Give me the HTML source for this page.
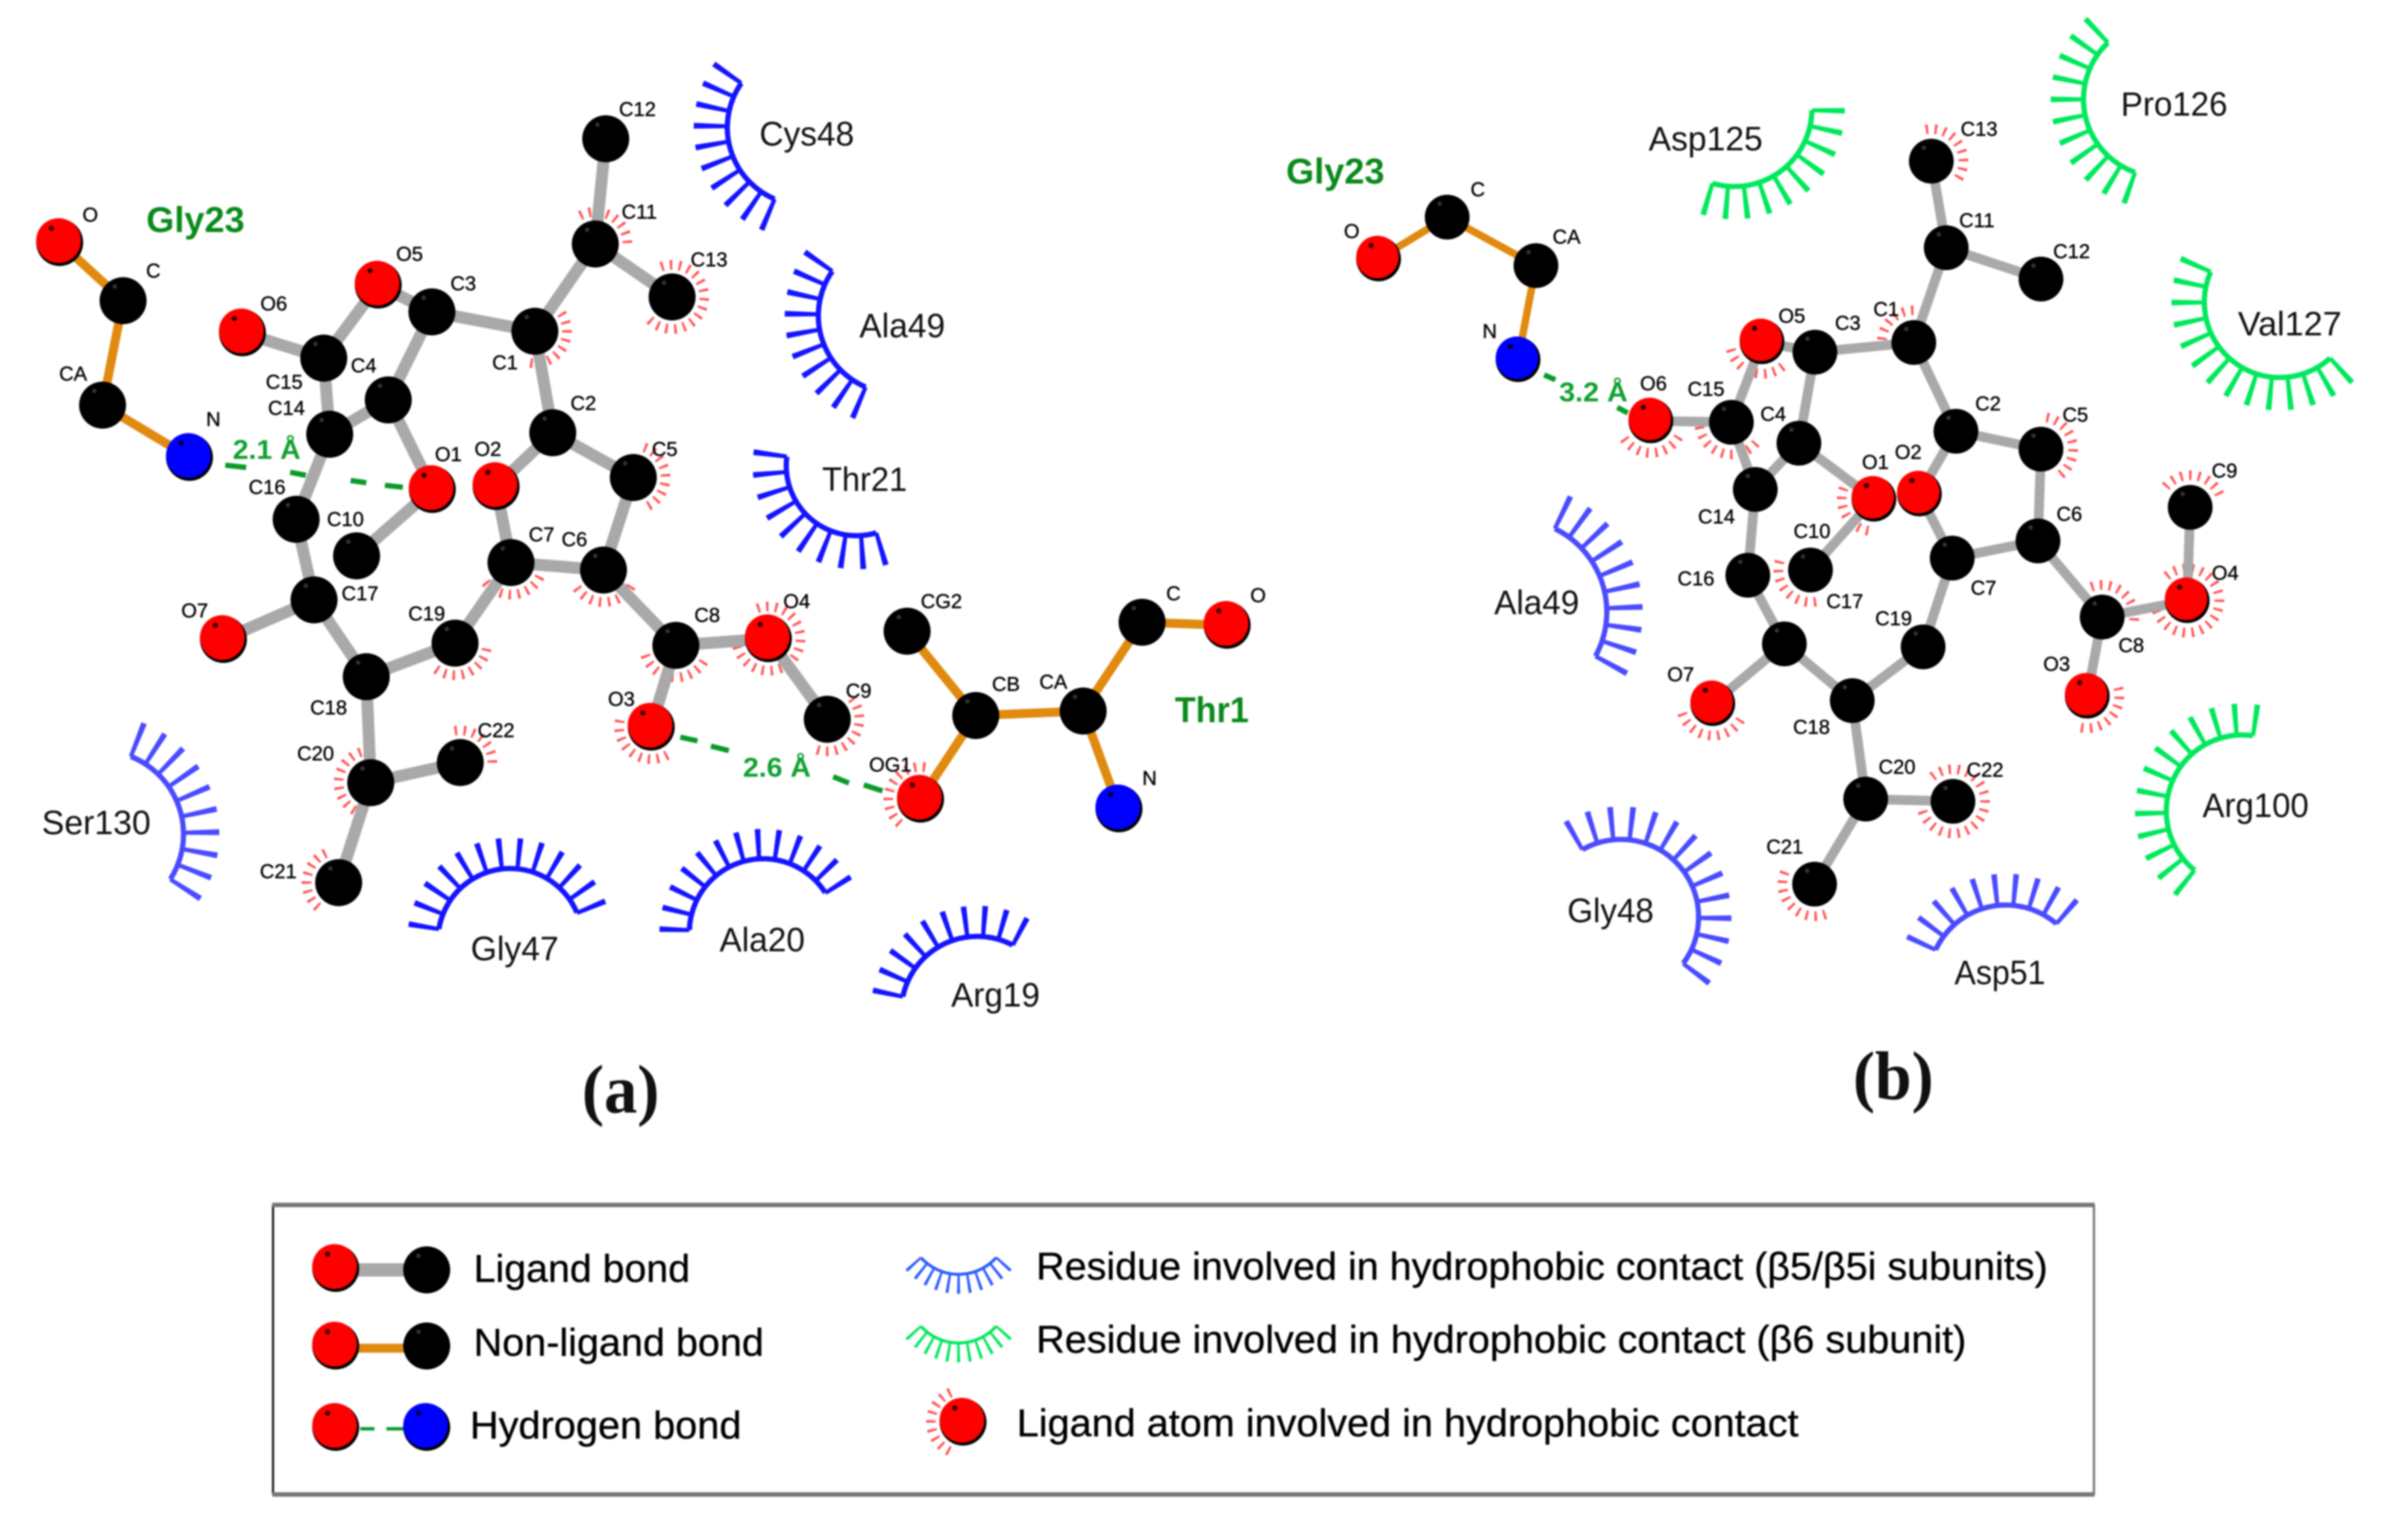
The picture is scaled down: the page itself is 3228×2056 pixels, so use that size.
<!DOCTYPE html>
<html><head><meta charset="utf-8"><title>Ligand interaction diagrams</title>
<style>
html,body{margin:0;padding:0;background:#fff;width:3228px;height:2056px;overflow:hidden}
svg{display:block;filter:blur(1px)}
text{font-family:"Liberation Sans",Arial,sans-serif;fill:#111}
.s text{font-size:27px;text-anchor:middle;fill:#000;stroke:#000;stroke-width:.4px}
.l{font-size:45px}
.g{font-size:48px;font-weight:bold;fill:#0a8a1a}
.h{font-size:36px;font-weight:bold;fill:#10a030}
.p{font-family:"Liberation Serif",serif;font-size:92px;font-weight:bold;fill:#111}
.t{font-size:52px;fill:#000;stroke:#000;stroke-width:.4px}
.b{fill:none;stroke:#a9a9a9;stroke-width:16}
.bb{fill:none;stroke:#a9a9a9;stroke-width:13}
.o{fill:none;stroke:#e08a10;stroke-width:12}
.ob{fill:none;stroke:#e08a10;stroke-width:10}
.hb{stroke:#0a9a2a;stroke-width:7;fill:none}
</style></head><body>
<svg xmlns="http://www.w3.org/2000/svg" width="3228" height="2056" viewBox="0 0 3228 2056">
<defs>
<g id="K"><circle r="31.5" fill="#000"/><circle cx="-11" cy="-19" r="3" fill="#333"/></g>
<g id="R"><circle r="31.5" fill="#000"/><circle cx="-1.5" cy="-2.5" r="30" fill="#f00"/><circle cx="-11" cy="-19" r="3.5" fill="#300"/></g>
<g id="N"><circle r="31.5" fill="#000"/><circle cx="-1.5" cy="-2.5" r="30" fill="#00f"/><circle cx="-11" cy="-19" r="3.5" fill="#003"/></g>
<g id="Kb"><circle r="30" fill="#000"/><circle cx="-10" cy="-18" r="3" fill="#333"/></g>
<g id="Rb"><circle r="30" fill="#000"/><circle cx="-1.5" cy="-2.5" r="28.5" fill="#f00"/><circle cx="-10" cy="-18" r="3.5" fill="#300"/></g>
<g id="Nb"><circle r="30" fill="#000"/><circle cx="-1.5" cy="-2.5" r="28.5" fill="#00f"/><circle cx="-10" cy="-18" r="3.5" fill="#003"/></g>
<g id="tk" fill="none" stroke="#ff5555" stroke-width="13">
<circle id="t7" r="43" pathLength="360" stroke-dasharray="4.3 11.7 4.3 11.7 4.3 11.7 4.3 11.7 4.3 11.7 4.3 11.7 4.3 999"/>
<circle id="t8" r="43" pathLength="360" stroke-dasharray="4.3 11.7 4.3 11.7 4.3 11.7 4.3 11.7 4.3 11.7 4.3 11.7 4.3 11.7 4.3 999"/>
<circle id="t9" r="43" pathLength="360" stroke-dasharray="4.3 11.7 4.3 11.7 4.3 11.7 4.3 11.7 4.3 11.7 4.3 11.7 4.3 11.7 4.3 11.7 4.3 999"/>
<circle id="t10" r="43" pathLength="360" stroke-dasharray="4.3 11.7 4.3 11.7 4.3 11.7 4.3 11.7 4.3 11.7 4.3 11.7 4.3 11.7 4.3 11.7 4.3 11.7 4.3 999"/>
<circle id="t16" r="43" pathLength="360" stroke-dasharray="4.3 11.7 4.3 11.7 4.3 11.7 4.3 11.7 4.3 11.7 4.3 11.7 4.3 11.7 4.3 11.7 4.3 11.7 4.3 11.7 4.3 11.7 4.3 11.7 4.3 11.7 4.3 11.7 4.3 11.7 4.3 999"/>
<circle id="t19" r="43" pathLength="360" stroke-dasharray="4.3 11.7 4.3 11.7 4.3 11.7 4.3 11.7 4.3 11.7 4.3 11.7 4.3 11.7 4.3 11.7 4.3 11.7 4.3 11.7 4.3 11.7 4.3 11.7 4.3 11.7 4.3 11.7 4.3 11.7 4.3 11.7 4.3 11.7 4.3 11.7 4.3 999"/>
</g>
</defs>
<rect width="3228" height="2056" fill="#fff"/>

<!-- hydrophobic ticks panel a -->
<g fill="none" stroke="#ff5555" stroke-width="13">
<use href="#t8" transform="translate(798 327) rotate(-118)"/>
<use href="#t16" transform="translate(901 398) rotate(-110)"/>
<use href="#t10" transform="translate(717 444) rotate(-50)"/>
<use href="#t9" transform="translate(849 640) rotate(-70)"/>
<use href="#t8" transform="translate(809 764) rotate(30)"/>
<use href="#t9" transform="translate(685 754) rotate(10)"/>
<use href="#t8" transform="translate(610 862) rotate(10)"/>
<use href="#t9" transform="translate(906 865) rotate(30)"/>
<use href="#t19" transform="translate(1030 856) rotate(-110)"/>
<use href="#t9" transform="translate(873 974.500) rotate(60)"/>
<use href="#t10" transform="translate(1109 964) rotate(-40)"/>
<use href="#t10" transform="translate(1234 1071) rotate(130)"/>
<use href="#t7" transform="translate(617 1022) rotate(-100)"/>
<use href="#t9" transform="translate(497 1049) rotate(120)"/>
<use href="#t8" transform="translate(454 1183) rotate(130)"/>
<!-- panel b -->
<use href="#t9" transform="translate(2589 216) rotate(-100)"/>
<use href="#t7" transform="translate(2565.500 459) rotate(185)"/>
<use href="#t8" transform="translate(2362 458) rotate(50)"/>
<use href="#t8" transform="translate(2213 564) rotate(30)"/>
<use href="#t9" transform="translate(2321 566) rotate(40)"/>
<use href="#t9" transform="translate(2736 602) rotate(-80)"/>
<use href="#t8" transform="translate(2512 669) rotate(100)"/>
<use href="#t8" transform="translate(2936 680) rotate(-140)"/>
<use href="#t8" transform="translate(2427 764) rotate(80)"/>
<use href="#t19" transform="translate(2932 805) rotate(-130)"/>
<use href="#t8" transform="translate(2818 827) rotate(-110)"/>
<use href="#t8" transform="translate(2798 933) rotate(-15)"/>
<use href="#t9" transform="translate(2296 943) rotate(30)"/>
<use href="#t19" transform="translate(2618 1074) rotate(-130)"/>
<use href="#t9" transform="translate(2432.500 1185) rotate(70)"/>
<use href="#t9" transform="translate(1291 1906) rotate(115)"/>
</g>

<!-- bonds panel a -->
<path class="o" d="M80 325L165 403L137.500 543L254 613M1216 846L1308 959L1452 953L1531 834L1645 838M1308 959L1234 1071M1452 953L1500 1084"/>
<path class="b" d="M325 446L434 480L507 382L579 418L717 444L798 327L812 186M798 327L901 398M579 418L520.500 536L442 582L434 480M520.500 536L579.500 656L478 745M442 582L397 696L421 804L299.500 857M421 804L491 907L610 862L685 754L665 652L741 580L717 444M741 580L849 640L809 764L685 754M809 764L906 865L873 974.500M906 865L1030 856L1109 964M491 907L497 1049L617 1022M497 1049L454 1183"/>
<!-- bonds panel b -->
<path class="ob" d="M1848 347L1940 291L2059 356L2035 482"/>
<path class="bb" d="M2213 564L2321 566L2362 458L2433 472L2565.500 459L2609 332L2589 216M2609 332L2736 374M2433 472L2411.500 594L2353 656L2321 566M2411.500 594L2512 669L2427 764M2353 656L2343 771L2392 863L2296 943M2392 863L2483 939L2578 867L2617 748L2573 662L2622 578L2565.500 459M2622 578L2736 602L2732 725L2617 748M2732 725L2818 827L2798 933M2818 827L2932 805L2936 680M2483 939L2501 1071L2618 1074M2501 1071L2432.500 1185"/>

<!-- hydrogen bonds -->
<path class="hb" d="M302 623.500L330 626.500M389 633L410 637M470 644L491 647M516 650.500L540 653M912 988L935 993M953 1000L977 1006M1117 1041L1138 1049.500M1158 1052L1183 1060M2070 502.500L2085 509M2168 546L2182 553.500"/>

<!-- atoms panel a -->
<use href="#R" x="80" y="325"/><use href="#K" x="165" y="403"/><use href="#K" x="137.500" y="543"/><use href="#N" x="254" y="613"/>
<use href="#R" x="325" y="446"/><use href="#K" x="434" y="480"/><use href="#R" x="507" y="382"/><use href="#K" x="579" y="418"/><use href="#K" x="717" y="444"/><use href="#K" x="798" y="327"/><use href="#K" x="812" y="186"/><use href="#K" x="901" y="398"/><use href="#K" x="520.500" y="536"/><use href="#K" x="442" y="582"/><use href="#R" x="579.500" y="656"/><use href="#R" x="665" y="652"/><use href="#K" x="741" y="580"/><use href="#K" x="849" y="640"/><use href="#K" x="397" y="696"/><use href="#K" x="478" y="745"/><use href="#K" x="685" y="754"/><use href="#K" x="809" y="764"/><use href="#K" x="421" y="804"/><use href="#R" x="299.500" y="857"/><use href="#K" x="610" y="862"/><use href="#K" x="491" y="907"/><use href="#K" x="906" y="865"/><use href="#R" x="1030" y="856"/><use href="#R" x="873" y="974.500"/><use href="#K" x="1109" y="964"/><use href="#K" x="617" y="1022"/><use href="#K" x="497" y="1049"/><use href="#K" x="454" y="1183"/>
<use href="#K" x="1216" y="846"/><use href="#K" x="1308" y="959"/><use href="#K" x="1452" y="953"/><use href="#K" x="1531" y="834"/><use href="#R" x="1645" y="838"/><use href="#R" x="1234" y="1071"/><use href="#N" x="1500" y="1084"/>
<!-- atoms panel b -->
<use href="#Rb" x="1848" y="347"/><use href="#Kb" x="1940" y="291"/><use href="#Kb" x="2059" y="356"/><use href="#Nb" x="2035" y="482"/>
<use href="#Rb" x="2213" y="564"/><use href="#Kb" x="2321" y="566"/><use href="#Rb" x="2362" y="458"/><use href="#Kb" x="2433" y="472"/><use href="#Kb" x="2565.500" y="459"/><use href="#Kb" x="2609" y="332"/><use href="#Kb" x="2589" y="216"/><use href="#Kb" x="2736" y="374"/><use href="#Kb" x="2411.500" y="594"/><use href="#Kb" x="2622" y="578"/><use href="#Kb" x="2736" y="602"/><use href="#Rb" x="2512" y="669"/><use href="#Rb" x="2573" y="662"/><use href="#Kb" x="2353" y="656"/><use href="#Kb" x="2732" y="725"/><use href="#Kb" x="2936" y="680"/><use href="#Kb" x="2343" y="771"/><use href="#Kb" x="2427" y="764"/><use href="#Kb" x="2617" y="748"/><use href="#Rb" x="2932" y="805"/><use href="#Kb" x="2818" y="827"/><use href="#Rb" x="2798" y="933"/><use href="#Kb" x="2578" y="867"/><use href="#Kb" x="2392" y="863"/><use href="#Rb" x="2296" y="943"/><use href="#Kb" x="2483" y="939"/><use href="#Kb" x="2501" y="1071"/><use href="#Kb" x="2618" y="1074"/><use href="#Kb" x="2432.500" y="1185"/>

<!-- residue arcs: dark blue -->
<g fill="none" stroke="#1414ff" stroke-width="7">
<circle r="104" pathLength="360" stroke-dasharray="102 999" transform="translate(1079 171) rotate(113)"/>
<circle r="126.500" stroke-width="45" pathLength="360" stroke-dasharray="2.94 8.39 2.94 8.39 2.94 8.39 2.94 8.39 2.94 8.39 2.94 8.39 2.94 8.39 2.94 8.39 2.94 8.39 2.94 999" transform="translate(1079 171) rotate(111.500)"/>
<circle r="104" pathLength="360" stroke-dasharray="102 999" transform="translate(1201 423) rotate(113)"/>
<circle r="126.500" stroke-width="45" pathLength="360" stroke-dasharray="2.94 8.39 2.94 8.39 2.94 8.39 2.94 8.39 2.94 8.39 2.94 8.39 2.94 8.39 2.94 8.39 2.94 8.39 2.94 999" transform="translate(1201 423) rotate(111.500)"/>
<circle r="94" pathLength="360" stroke-dasharray="113.900 999" transform="translate(1148 624) rotate(73.500)"/>
<circle r="116.500" stroke-width="45" pathLength="360" stroke-dasharray="3.2 9.46 3.2 9.46 3.2 9.46 3.2 9.46 3.2 9.46 3.2 9.46 3.2 9.46 3.2 9.46 3.2 9.46 3.2 999" transform="translate(1148 624) rotate(71.900)"/>
<circle r="97" pathLength="360" stroke-dasharray="147.900 999" transform="translate(684 1261) rotate(189.400)"/>
<circle r="117.500" stroke-width="41" pathLength="360" stroke-dasharray="3.17 9.16 3.17 9.16 3.17 9.16 3.17 9.16 3.17 9.16 3.17 9.16 3.17 9.16 3.17 9.16 3.17 9.16 3.17 9.16 3.17 9.16 3.17 9.16 3.17 999" transform="translate(684 1261) rotate(187.800)"/>
<circle r="99" pathLength="360" stroke-dasharray="145.500 999" transform="translate(1023 1250) rotate(182)"/>
<circle r="119" stroke-width="40" pathLength="360" stroke-dasharray="3.13 9 3.13 9 3.13 9 3.13 9 3.13 9 3.13 9 3.13 9 3.13 9 3.13 9 3.13 9 3.13 9 3.13 9 3.13 999" transform="translate(1023 1250) rotate(180.400)"/>
<circle r="102" pathLength="360" stroke-dasharray="105.800 999" transform="translate(1310 1357) rotate(192)"/>
<circle r="122.500" stroke-width="41" pathLength="360" stroke-dasharray="3.04 8.72 3.04 8.72 3.04 8.72 3.04 8.72 3.04 8.72 3.04 8.72 3.04 8.72 3.04 8.72 3.04 8.72 3.04 999" transform="translate(1310 1357) rotate(190.500)"/>
</g>
<!-- residue arcs: light blue -->
<g fill="none" stroke="#4a4aff" stroke-width="7">
<circle r="112" pathLength="360" stroke-dasharray="101 999" transform="translate(134 1118) rotate(-68.300)"/>
<circle r="136" stroke-width="48" pathLength="360" stroke-dasharray="2.8 8.42 2.8 8.42 2.8 8.42 2.8 8.42 2.8 8.42 2.8 8.42 2.8 8.42 2.8 8.42 2.8 8.42 2.8 999" transform="translate(134 1118) rotate(-69.700)"/>
<circle r="124" pathLength="360" stroke-dasharray="92.700 999" transform="translate(2030 820) rotate(-64)"/>
<circle r="148" stroke-width="48" pathLength="360" stroke-dasharray="2.59 7.71 2.59 7.71 2.59 7.71 2.59 7.71 2.59 7.71 2.59 7.71 2.59 7.71 2.59 7.71 2.59 7.71 2.59 999" transform="translate(2030 820) rotate(-65.300)"/>
<circle r="104" pathLength="360" stroke-dasharray="156.600 999" transform="translate(2173 1229) rotate(240.200)"/>
<circle r="126" stroke-width="44" pathLength="360" stroke-dasharray="3 9.05 3 9.05 3 9.05 3 9.05 3 9.05 3 9.05 3 9.05 3 9.05 3 9.05 3 9.05 3 9.05 3 9.05 3 9.05 3 999" transform="translate(2173 1229) rotate(238.700)"/>
<circle r="104" pathLength="360" stroke-dasharray="105.700 999" transform="translate(2689 1317) rotate(205)"/>
<circle r="125" stroke-width="42" pathLength="360" stroke-dasharray="2.98 8.76 2.98 8.76 2.98 8.76 2.98 8.76 2.98 8.76 2.98 8.76 2.98 8.76 2.98 8.76 2.98 8.76 2.98 999" transform="translate(2689 1317) rotate(203.500)"/>
</g>
<!-- residue arcs: green -->
<g fill="none" stroke="#00e85c" stroke-width="7">
<circle r="104" pathLength="360" stroke-dasharray="117.200 999" transform="translate(2897 133) rotate(109.600)"/>
<circle r="126" stroke-width="44" pathLength="360" stroke-dasharray="2.96 8.76 2.96 8.76 2.96 8.76 2.96 8.76 2.96 8.76 2.96 8.76 2.96 8.76 2.96 8.76 2.96 8.76 2.96 8.76 2.96 999" transform="translate(2897 133) rotate(108.100)"/>
<circle r="104" pathLength="360" stroke-dasharray="105.500 999" transform="translate(2325 146) rotate(1)"/>
<circle r="126" stroke-width="44" pathLength="360" stroke-dasharray="2.96 8.76 2.96 8.76 2.96 8.76 2.96 8.76 2.96 8.76 2.96 8.76 2.96 8.76 2.96 8.76 2.96 8.76 2.96 999" transform="translate(2325 146) rotate(-.5)"/>
<circle r="101" pathLength="360" stroke-dasharray="155.800 999" transform="translate(3056 405) rotate(48)"/>
<circle r="123" stroke-width="44" pathLength="360" stroke-dasharray="3.03 8.95 3.03 8.95 3.03 8.95 3.03 8.95 3.03 8.95 3.03 8.95 3.03 8.95 3.03 8.95 3.03 8.95 3.03 8.95 3.03 8.95 3.03 8.95 3.03 8.95 3.03 999" transform="translate(3056 405) rotate(46.500)"/>
<circle r="102" pathLength="360" stroke-dasharray="149.200 999" transform="translate(3006 1087) rotate(128.900)"/>
<circle r="123" stroke-width="42" pathLength="360" stroke-dasharray="3.03 9.4 3.03 9.4 3.03 9.4 3.03 9.4 3.03 9.4 3.03 9.4 3.03 9.4 3.03 9.4 3.03 9.4 3.03 9.4 3.03 9.4 3.03 9.4 3.03 999" transform="translate(3006 1087) rotate(127.400)"/>
</g>

<!-- atom labels -->
<g class="s">
<text x="121" y="297">O</text><text x="205.500" y="372">C</text><text x="98" y="510">CA</text><text x="286" y="571">N</text><text x="367" y="416">O6</text><text x="549" y="349.500">O5</text><text x="621" y="389">C3</text><text x="381" y="521">C15</text><text x="487.500" y="499">C4</text><text x="384" y="556">C14</text><text x="677" y="495">C1</text><text x="782" y="549.500">C2</text><text x="891" y="611">C5</text><text x="857" y="293">C11</text><text x="854.500" y="155.600">C12</text><text x="950.500" y="357">C13</text><text x="601" y="618">O1</text><text x="654" y="611">O2</text><text x="358" y="662">C16</text><text x="463" y="705">C10</text><text x="726" y="725.500">C7</text><text x="770" y="732">C6</text><text x="482.600" y="804.600">C17</text><text x="261" y="827.500">O7</text><text x="572" y="831.600">C19</text><text x="440.500" y="957.600">C18</text><text x="423" y="1019">C20</text><text x="665" y="988">C22</text><text x="373" y="1177">C21</text><text x="948" y="833.700">C8</text><text x="1068" y="815">O4</text><text x="833" y="946">O3</text><text x="1151" y="935">C9</text><text x="1262" y="815">CG2</text><text x="1348.500" y="926">CB</text><text x="1412" y="923">CA</text><text x="1573" y="804.600">C</text><text x="1686.500" y="807">O</text><text x="1193.500" y="1034">OG1</text><text x="1541" y="1052">N</text>
<text x="1812" y="319">O</text><text x="1981" y="263">C</text><text x="2100" y="326.500">CA</text><text x="1997" y="453">N</text><text x="2216.500" y="523">O6</text><text x="2287" y="530.600">C15</text><text x="2402" y="432.600">O5</text><text x="2477" y="442">C3</text><text x="2528.500" y="423.500">C1</text><text x="2377" y="564">C4</text><text x="2665" y="550">C2</text><text x="2782" y="565">C5</text><text x="2650" y="304.600">C11</text><text x="2653" y="182">C13</text><text x="2777" y="346">C12</text><text x="2514" y="628.600">O1</text><text x="2558" y="615">O2</text><text x="2301" y="701.500">C14</text><text x="2774" y="698">C6</text><text x="2982" y="640">C9</text><text x="2429" y="721">C10</text><text x="2273.500" y="784.600">C16</text><text x="2473" y="815">C17</text><text x="2659" y="797">C7</text><text x="2538.400" y="838">C19</text><text x="2983" y="777">O4</text><text x="2857" y="874">C8</text><text x="2757" y="899">O3</text><text x="2253" y="913">O7</text><text x="2428.400" y="983.600">C18</text><text x="2543" y="1037">C20</text><text x="2661" y="1041">C22</text><text x="2392.500" y="1144">C21</text>
</g>

<!-- residue labels -->
<text class="g" x="196" y="311" textLength="132" lengthAdjust="spacingAndGlyphs">Gly23</text>
<text class="g" x="1575" y="968" textLength="99" lengthAdjust="spacingAndGlyphs">Thr1</text>
<text class="g" x="1724" y="246" textLength="132" lengthAdjust="spacingAndGlyphs">Gly23</text>
<text class="h" x="312" y="615" textLength="91" lengthAdjust="spacingAndGlyphs">2.1 Å</text>
<text class="h" x="996" y="1041" textLength="91" lengthAdjust="spacingAndGlyphs">2.6 Å</text>
<text class="h" x="2090" y="538" textLength="92" lengthAdjust="spacingAndGlyphs">3.2 Å</text>
<text class="l" x="1018" y="195" textLength="127" lengthAdjust="spacingAndGlyphs">Cys48</text>
<text class="l" x="1152" y="452" textLength="115" lengthAdjust="spacingAndGlyphs">Ala49</text>
<text class="l" x="1102" y="658" textLength="114" lengthAdjust="spacingAndGlyphs">Thr21</text>
<text class="l" x="56" y="1118" textLength="146" lengthAdjust="spacingAndGlyphs">Ser130</text>
<text class="l" x="631" y="1287" textLength="118" lengthAdjust="spacingAndGlyphs">Gly47</text>
<text class="l" x="964.500" y="1275" textLength="114.500" lengthAdjust="spacingAndGlyphs">Ala20</text>
<text class="l" x="1275" y="1349" textLength="119" lengthAdjust="spacingAndGlyphs">Arg19</text>
<text class="l" x="2210" y="201.500" textLength="153" lengthAdjust="spacingAndGlyphs">Asp125</text>
<text class="l" x="2843" y="155" textLength="143" lengthAdjust="spacingAndGlyphs">Pro126</text>
<text class="l" x="3000" y="449.700" textLength="139" lengthAdjust="spacingAndGlyphs">Val127</text>
<text class="l" x="2003" y="823" textLength="114" lengthAdjust="spacingAndGlyphs">Ala49</text>
<text class="l" x="2952.500" y="1095" textLength="142.500" lengthAdjust="spacingAndGlyphs">Arg100</text>
<text class="l" x="2101" y="1236" textLength="116" lengthAdjust="spacingAndGlyphs">Gly48</text>
<text class="l" x="2620" y="1319" textLength="122" lengthAdjust="spacingAndGlyphs">Asp51</text>
<text class="p" x="780" y="1491" textLength="104" lengthAdjust="spacingAndGlyphs">(a)</text>
<text class="p" x="2484" y="1473" textLength="108" lengthAdjust="spacingAndGlyphs">(b)</text>

<!-- legend box -->
<path d="M366 1615V2003" stroke="#222" stroke-width="3" fill="none"/>
<path d="M2807 1615V2003" stroke="#777" stroke-width="3" fill="none"/>
<path d="M365 1615H2808M365 2003H2808" stroke="#777" stroke-width="6" fill="none"/>
<path d="M450 1702H572" stroke="#a9a9a9" stroke-width="18" fill="none"/>
<path d="M450 1807H572" stroke="#e08a10" stroke-width="12" fill="none"/>
<path d="M483 1915H502M518 1915H543" stroke="#0a9a2a" stroke-width="4.500" fill="none"/>
<use href="#R" x="450" y="1700"/><use href="#K" x="572" y="1702"/>
<use href="#R" x="450" y="1804"/><use href="#K" x="572" y="1804"/>
<use href="#R" x="450" y="1913"/><use href="#N" x="572" y="1913"/>
<use href="#R" x="1291" y="1906"/>
<g fill="none" stroke="#2a5cff" stroke-width="4">
<circle r="68" pathLength="360" stroke-dasharray="96 999" transform="translate(1285 1640) rotate(42)"/>
<circle r="81" stroke-width="26" pathLength="360" stroke-dasharray="2.48 7.12 2.48 7.12 2.48 7.12 2.48 7.12 2.48 7.12 2.48 7.12 2.48 7.12 2.48 7.12 2.48 7.12 2.48 7.12 2.48 999" transform="translate(1285 1640) rotate(40.800)"/>
</g>
<g fill="none" stroke="#00e85c" stroke-width="4">
<circle r="68" pathLength="360" stroke-dasharray="96 999" transform="translate(1285 1732) rotate(42)"/>
<circle r="81" stroke-width="26" pathLength="360" stroke-dasharray="2.48 7.12 2.48 7.12 2.48 7.12 2.48 7.12 2.48 7.12 2.48 7.12 2.48 7.12 2.48 7.12 2.48 7.12 2.48 7.12 2.48 999" transform="translate(1285 1732) rotate(40.800)"/>
</g>
<text class="t" x="635" y="1718" textLength="290" lengthAdjust="spacingAndGlyphs">Ligand bond</text>
<text class="t" x="635" y="1817" textLength="389" lengthAdjust="spacingAndGlyphs">Non-ligand bond</text>
<text class="t" x="630" y="1928" textLength="364" lengthAdjust="spacingAndGlyphs">Hydrogen bond</text>
<text class="t" x="1389" y="1715" textLength="1356" lengthAdjust="spacingAndGlyphs">Residue involved in hydrophobic contact (β5/β5i subunits)</text>
<text class="t" x="1389" y="1813" textLength="1247" lengthAdjust="spacingAndGlyphs">Residue involved in hydrophobic contact (β6 subunit)</text>
<text class="t" x="1363" y="1925" textLength="1048" lengthAdjust="spacingAndGlyphs">Ligand atom involved in hydrophobic contact</text>
</svg>
</body></html>
